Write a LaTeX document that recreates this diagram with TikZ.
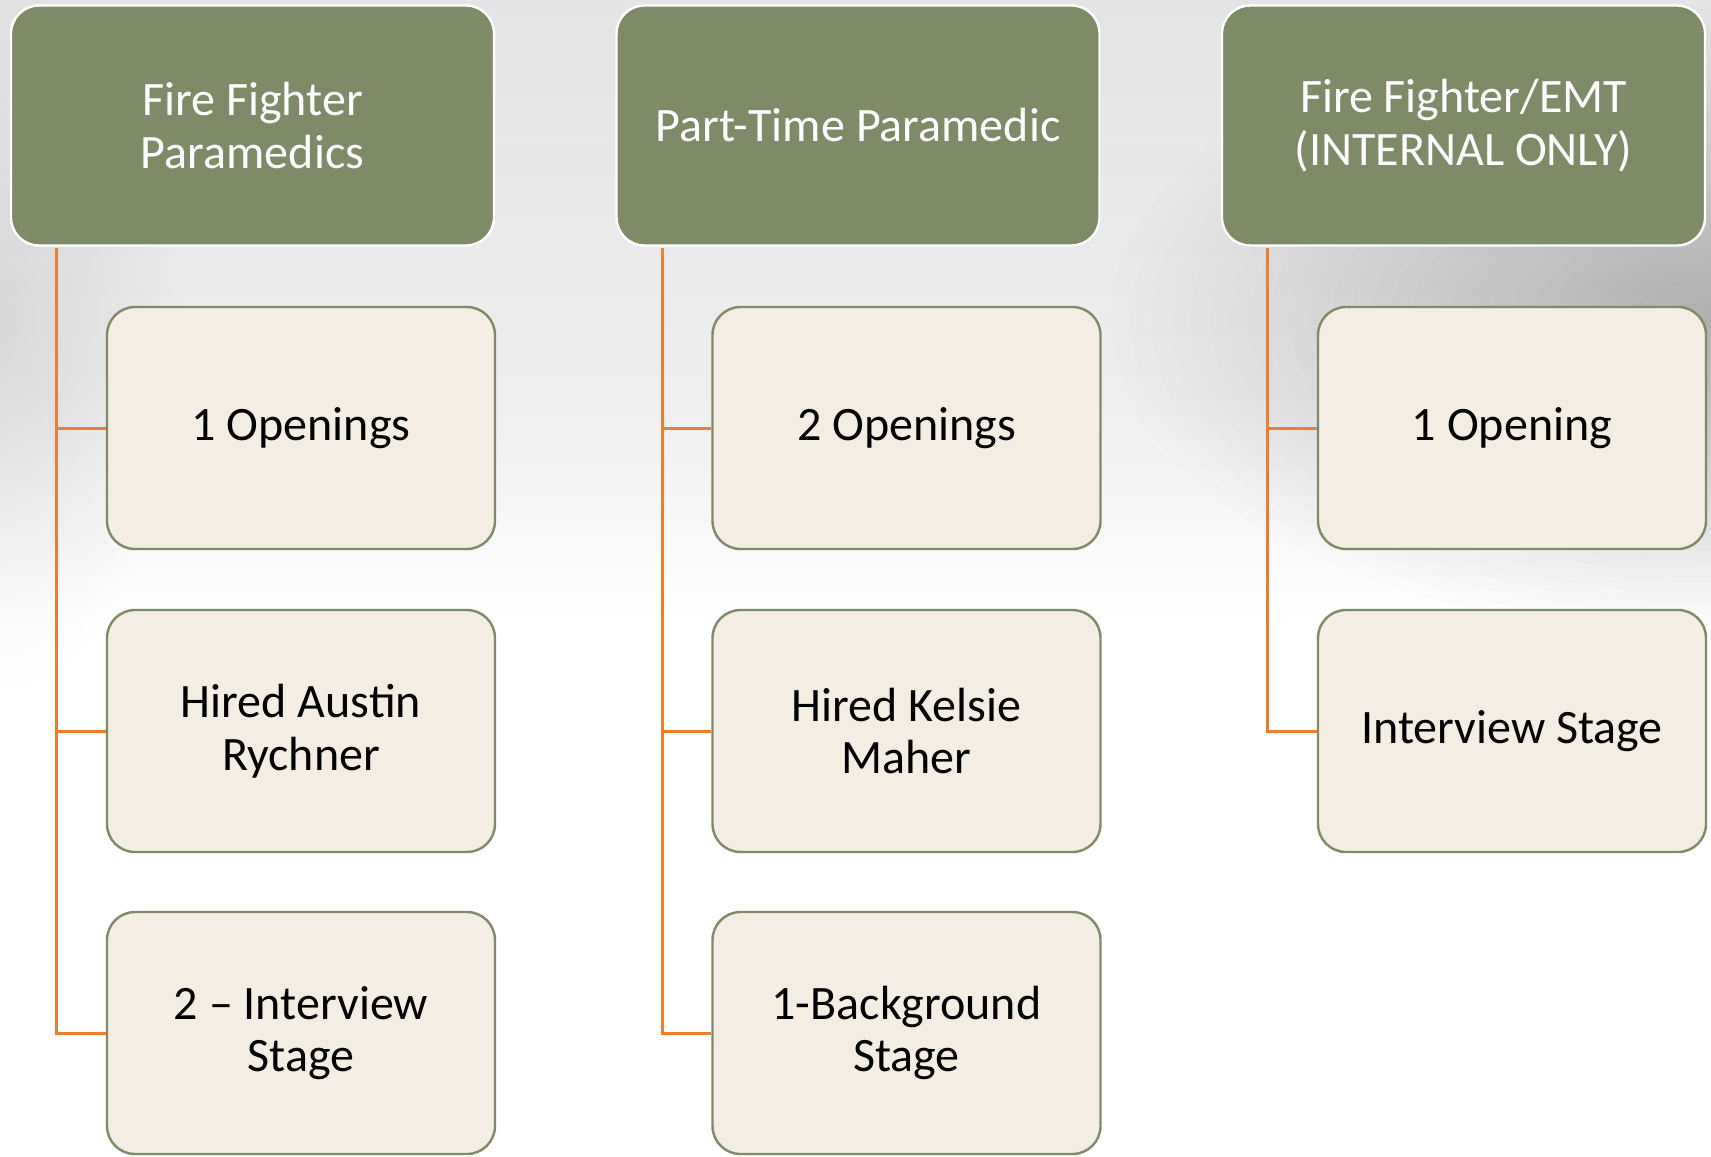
\documentclass[tikz,border=0pt]{standalone}
\usepackage{fontspec}
\setmainfont{Carlito}
\definecolor{hdrgreen}{HTML}{7E8B66}
\definecolor{childfill}{HTML}{F3EDE3}
\definecolor{connorange}{HTML}{ED7D31}
\definecolor{bgpeach}{HTML}{FCE6CC}
\definecolor{bgpeachl}{HTML}{FDF2E4}
\definecolor{bggrayA}{HTML}{EEEEEE}
\definecolor{bggrayB}{HTML}{E4E4E4}
\definecolor{bggrayC}{HTML}{DDDDDD}
\pgfdeclareverticalshading{bgshade}{100bp}{color(0bp)=(bgpeach); color(9bp)=(bgpeachl); color(19bp)=(white); color(48bp)=(white); color(58bp)=(bggrayA); color(75bp)=(bggrayB); color(100bp)=(bggrayC)}
\tikzset{
  hdr/.style={draw=white, line width=1.2pt, fill=hdrgreen, rounded corners=14pt,
    minimum width=241.5pt, minimum height=120pt, inner sep=0pt, align=center,
    text=white, font=\fontsize{24pt}{26.2pt}\selectfont},
  child/.style={draw=hdrgreen, line width=1.2pt, fill=childfill, rounded corners=14pt,
    minimum width=194pt, minimum height=121pt, inner sep=0pt, align=center,
    text=black, font=\fontsize{24pt}{26.2pt}\selectfont},
  conn/.style={draw=connorange, line width=1.5pt}
}
\begin{document}
\begin{tikzpicture}[x=0.5pt,y=-0.5pt]
\useasboundingbox (0,0) rectangle (1711,1156);
\begin{scope}
  \clip (0,0) rectangle (1711,1156);
  \shade[shading=bgshade] (0,0) rectangle (1711,1156);
  \foreach \i in {1,...,30}{
    \fill[black, fill opacity=0.0075] (1711,320) ellipse [x radius={20*\i}, y radius={10.5*\i}];
  }
  \foreach \i in {1,...,20}{
    \fill[black, fill opacity=0.004] (0,330) ellipse [x radius={9*\i}, y radius={18*\i}];
  }
\end{scope}

% headers
\node[hdr] (h1) at (252.5,125.5) {Fire Fighter\\Paramedics};
\node[hdr] (h2) at (858,125.5) {Part-Time Paramedic};
\node[hdr] (h3) at (1463.5,125.5) {Fire Fighter/EMT\\(INTERNAL ONLY)};

% children column 1
\node[child] (c11) at (301,428) {1 Openings};
\node[child] (c12) at (301,731) {Hired Austin\\Rychner};
\node[child] (c13) at (301,1033) {2 – Interview\\Stage};
% column 2
\node[child] (c21) at (906.5,428) {2 Openings};
\node[child] (c22) at (906.5,731) {Hired Kelsie\\Maher};
\node[child] (c23) at (906.5,1033) {1-Background\\Stage};
% column 3
\node[child] (c31) at (1512,428) {1 Opening};
\node[child] (c32) at (1512,731) {Interview Stage};

% connectors
\foreach \h/\c in {h1/c11,h1/c12,h1/c13,h2/c21,h2/c22,h2/c23,h3/c31,h3/c32}{
  \draw[conn] ([xshift=23.5pt,yshift=-0.6pt]\h.south west) |- (\c.west);
}
\end{tikzpicture}
\end{document}
